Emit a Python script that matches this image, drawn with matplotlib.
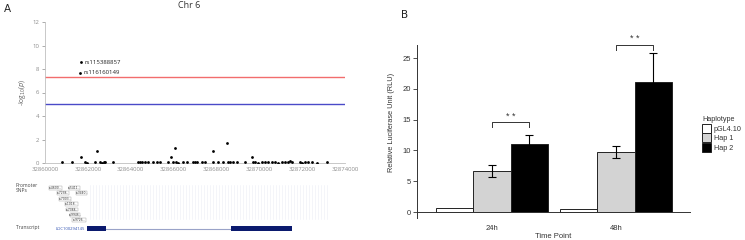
import matplotlib
matplotlib.use("Agg")
import matplotlib.pyplot as plt
import numpy as np
from matplotlib.patches import Rectangle

# ---------------- Panel A data ----------------
snp_pos = [32860793, 32861260, 32861680, 32861867, 32861960, 32862333, 32862427, 32862567,
           32862660, 32862753, 32862800, 32863173, 32864340, 32864433, 32864527, 32864667,
           32864807, 32865040, 32865227, 32865367, 32865740, 32865880, 32865973, 32866067,
           32866113, 32866207, 32866440, 32866627, 32866907, 32867000, 32867093, 32867327,
           32867467, 32867840, 32867860, 32868073, 32868307, 32868493, 32868540, 32868633,
           32868773, 32868960, 32869333, 32869660, 32869700, 32869800, 32869940, 32870127,
           32870267, 32870407, 32870593, 32870733, 32870873, 32871060, 32871200, 32871340,
           32871433, 32871527, 32871900, 32871993, 32872133, 32872273, 32872460, 32872693,
           32873160]
snp_logp = [0.08, 0.06, 0.55, 0.05, 0.04, 0.07, 1.02, 0.05,
            0.03, 0.06, 0.05, 0.07, 0.06, 0.05, 0.08, 0.05,
            0.10, 0.08, 0.06, 0.07, 0.05, 0.50, 0.09, 1.27,
            0.05, 0.04, 0.08, 0.06, 0.12, 0.05, 0.10, 0.06,
            0.08, 1.02, 0.05, 0.07, 0.06, 1.68, 0.10, 0.05,
            0.12, 0.06, 0.05, 0.48, 0.05, 0.06, 0.04, 0.06,
            0.05, 0.07, 0.05, 0.06, 0.04, 0.08, 0.05, 0.06,
            0.18, 0.06, 0.07, 0.04, 0.06, 0.05, 0.08, 0.04,
            0.05]
top_names = ["rs115388857", "rs116160149"]
top_pos = [32861680, 32861633]
top_logp = [8.57, 7.66]
gw_threshold = 7.3
sugg_threshold = 5.0
x_ticks_A = [32860000, 32862000, 32864000, 32866000, 32868000, 32870000, 32872000, 32874000]
y_ticks_A = [0, 2, 4, 6, 8, 10, 12]

# Promoter SNP boxes (bp start, bp end, row) and transcript exons
promoter_labels = ["rs4600..", "rs5411..", "rs7238..", "rs3440..", "rs7003..",
                   "rs1018..", "rs7388..", "rs9946..", "rs9726.."]
promoter_start = [32860187, 32861120, 32860560, 32861447, 32860653, 32860933, 32860980, 32861167, 32861260]
promoter_end = [32860793, 32861633, 32861120, 32861960, 32861213, 32861540, 32861540, 32861633, 32861913]
promoter_row = [0, 0, 1, 1, 2, 3, 4, 5, 6]
transcript_name = "LOC100294145"
exon_start = [32861960, 32868680]
exon_end = [32862847, 32871527]
intron_span = [32862847, 32868680]

# ---------------- Panel B data ----------------
timepoints = ["24h", "48h"]
haplotypes = ["pGL4.10", "Hap 1", "Hap 2"]
rlu_mean = {"pGL4.10": [0.7, 0.55], "Hap 1": [6.7, 9.7], "Hap 2": [11.0, 21.2]}
rlu_err = {"pGL4.10": [0.0, 0.0], "Hap 1": [1.0, 0.95], "Hap 2": [1.5, 4.7]}
bar_colors = {"pGL4.10": "white", "Hap 1": "#d3d3d3", "Hap 2": "black"}
sig_text = ["* *", "* *"]
sig_heights = [14.6, 27.2]
y_ticks_B = [0, 5, 10, 15, 20, 25]

W, H = 745, 240
fig = plt.figure(figsize=(W / 100, H / 100), dpi=100)

def fx(px):
    return px / W

def fy(py):
    return 1 - py / H

gray = "#8c8c8c"
axis_gray = "#bfbfbf"
fontA = ["Open Sans", "DejaVu Sans"]

# ---------- Panel A main ----------
axA = fig.add_axes([fx(45), fy(163), fx(300), 141 / H])
axA.set_xlim(32860000, 32874000)
axA.set_ylim(0, 12)
axA.axhline(gw_threshold, color="#f26d6d", lw=1.0, zorder=1)
axA.axhline(sugg_threshold, color="#4a4ac8", lw=1.0, zorder=1)
axA.scatter(snp_pos, snp_logp, s=4, color="black", zorder=3, linewidths=0)
axA.scatter(top_pos, top_logp, s=4, color="black", zorder=3, linewidths=0)
for n, p, v in zip(top_names, top_pos, top_logp):
    axA.annotate(n, (p, v), xytext=(2.5, 0), textcoords="offset points",
                 fontsize=4.3, va="center", ha="left", family=fontA, color="#222222")
for s in ["top", "right"]:
    axA.spines[s].set_visible(False)
axA.spines["left"].set_color(axis_gray)
axA.spines["bottom"].set_color(axis_gray)
axA.spines["left"].set_linewidth(0.6)
axA.spines["bottom"].set_linewidth(0.6)
axA.set_xticks(x_ticks_A)
axA.set_xticklabels([str(t) for t in x_ticks_A])
axA.set_yticks(y_ticks_A)
axA.tick_params(axis="both", labelsize=4.3, colors=gray, length=2, width=0.5, pad=2)
axA.tick_params(axis="x", length=0, pad=3)
for lab in axA.get_xticklabels() + axA.get_yticklabels():
    lab.set_family(fontA)
axA.set_ylabel(r"-log$_{10}$($p$)", fontsize=4.8, color="#666666", labelpad=3, family=fontA)
axA.set_title("Chr 6", fontsize=6.5, color="#333333", family=fontA, pad=10)
axA.title.set_position((0.48, 1.0))

# ---------- Panel A track ----------
axT = fig.add_axes([fx(45), fy(235), fx(300), 52 / H])
axT.set_xlim(32860000, 32874000)
axT.set_ylim(10, -0.6)
axT.axis("off")
for xv in np.arange(32862100, 32873200, 140):
    axT.plot([xv, xv], [-0.2, 6.8], color="#eceef6", lw=0.4, zorder=0)
for lab, s, e, r in zip(promoter_labels, promoter_start, promoter_end, promoter_row):
    yy = r * 1.1
    axT.add_patch(Rectangle((s, yy), e - s, 0.8, facecolor="white", edgecolor="#9a9a9a",
                            lw=0.3, zorder=2))
    axT.text((s + e) / 2, yy + 0.42, lab, fontsize=2.2, ha="center", va="center",
             color="#333333", zorder=3)
ty = 8.7
axT.plot(intron_span, [ty, ty], color="#9aa3c8", lw=0.8, zorder=1)
for s, e in zip(exon_start, exon_end):
    axT.add_patch(Rectangle((s, ty - 0.45), e - s, 0.9, facecolor="#0b1a6e", edgecolor="none", zorder=2))
axT.text(32861850, ty, transcript_name, fontsize=3.0, ha="right", va="center",
         color="#2a4db0", family=fontA)
fig.text(fx(16), fy(188), "Promoter\nSNPs", fontsize=3.6, ha="left", va="center",
         color="#444444", family=fontA, linespacing=1.1)
fig.text(fx(16), fy(228), "Transcript", fontsize=3.6, ha="left", va="center",
         color="#444444", family=fontA)

fig.text(fx(4), fy(9), "A", fontsize=7.5, ha="left", va="center", color="#222222")
fig.text(fx(401), fy(15), "B", fontsize=7.5, ha="left", va="center", color="#222222")

# ---------- Panel B ----------
fontB = ["Liberation Sans", "DejaVu Sans"]
axB = fig.add_axes([fx(417), fy(218.2), fx(273), 190.8 / H])
axB.set_xlim(-0.605, 1.597)
axB.set_ylim(-1.0, 30)
x = np.arange(len(timepoints))
bw = 0.3
for i, h in enumerate(haplotypes):
    xs = x + (i - 1) * bw
    axB.bar(xs, rlu_mean[h], width=bw, color=bar_colors[h], edgecolor="#222222",
            linewidth=0.7, label=h, zorder=2)
    if h != "pGL4.10":
        axB.errorbar(xs, rlu_mean[h], yerr=rlu_err[h], fmt="none", ecolor="black",
                     elinewidth=0.8, capsize=3.0, capthick=0.8, zorder=3)
for k in range(len(timepoints)):
    x1 = x[k]
    x2 = x[k] + bw
    hgt = sig_heights[k]
    axB.plot([x1, x1, x2, x2], [hgt - 0.8, hgt, hgt, hgt - 0.8], color="#333333", lw=0.7,
             clip_on=False)
    axB.text((x1 + x2) / 2, hgt + 0.2, sig_text[k], ha="center", va="bottom",
             fontsize=6.5, color="#333333", family=fontB)
axB.spines["top"].set_visible(False)
axB.spines["right"].set_visible(False)
axB.spines["left"].set_bounds(-1.0, 27.1)
axB.spines["bottom"].set_position(("data", 0))
for s in ["left", "bottom"]:
    axB.spines[s].set_linewidth(0.7)
    axB.spines[s].set_color("#333333")
axB.set_yticks(y_ticks_B)
axB.set_xticks(x)
axB.set_xticklabels(timepoints)
axB.tick_params(axis="y", labelsize=5.5, length=3, width=0.6, pad=1.5, colors="#333333")
axB.tick_params(axis="x", labelsize=5.5, length=0, pad=9, colors="#333333")
for lab in axB.get_xticklabels() + axB.get_yticklabels():
    lab.set_family(fontB)
axB.set_ylabel("Relative Luciferase Unit (RLU)", fontsize=5.3, color="#333333",
               labelpad=5, family=fontB)
axB.set_xlabel("Time Point", fontsize=5.5, color="#333333", labelpad=1, family=fontB)

leg = axB.legend(title="Haplotype", loc="upper left", bbox_to_anchor=(1.035, 0.55),
                 frameon=False, title_fontsize=5.2, handlelength=1.2,
                 handleheight=1.5, handletextpad=0.4, labelspacing=0.1, borderaxespad=0,
                 prop={"family": fontB, "size": 5.2})
leg._legend_box.align = "left"
leg.get_title().set_family(fontB)
leg.get_title().set_color("#333333")
for t in leg.get_texts():
    t.set_color("#333333")

fig.savefig("out.png", dpi=100)
